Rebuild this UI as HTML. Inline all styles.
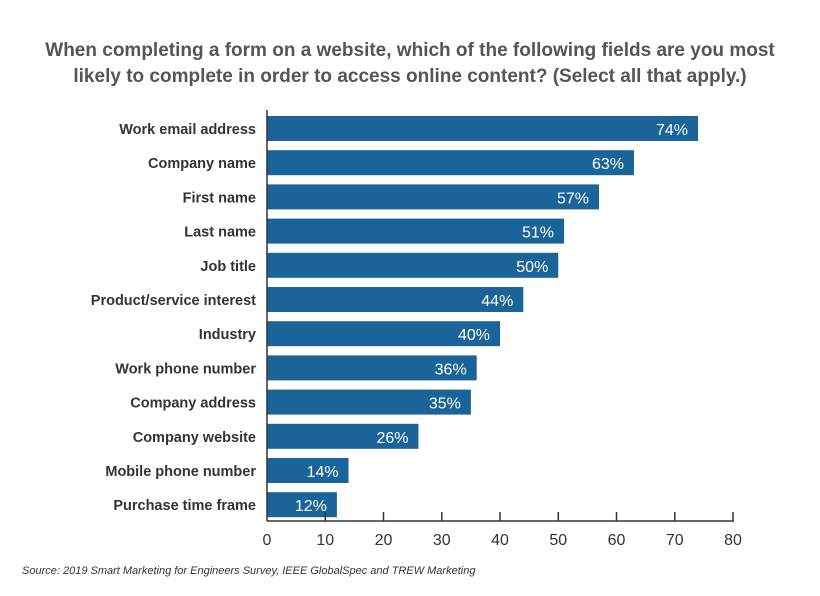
<!DOCTYPE html>
<html><head><style>
body{margin:0;background:#fff;width:820px;height:591px;overflow:hidden;font-family:"Liberation Sans",sans-serif}
</style></head><body>
<svg width="820" height="591" xmlns="http://www.w3.org/2000/svg" font-family="Liberation Sans, sans-serif">
<text x="410" y="56" text-anchor="middle" font-size="19" font-weight="bold" fill="#555">When completing a form on a website, which of the following fields are you most</text>
<text x="410" y="82" text-anchor="middle" font-size="19" font-weight="bold" fill="#555">likely to complete in order to access online content? (Select all that apply.)</text>
<g fill="#1b6499">
<rect x="267" y="116" width="431.05" height="25"/>
<rect x="267" y="150.2" width="366.98" height="25"/>
<rect x="267" y="184.4" width="332.03" height="25"/>
<rect x="267" y="218.6" width="297.08" height="25"/>
<rect x="267" y="252.8" width="291.25" height="25"/>
<rect x="267" y="287" width="256.3" height="25"/>
<rect x="267" y="321.2" width="233" height="25"/>
<rect x="267" y="355.4" width="209.7" height="25"/>
<rect x="267" y="389.6" width="203.88" height="25"/>
<rect x="267" y="423.8" width="151.45" height="25"/>
<rect x="267" y="458" width="81.55" height="25"/>
<rect x="267" y="492.2" width="69.9" height="25"/>
</g>
<g font-size="14.5" font-weight="bold" fill="#333" text-anchor="end">
<text x="256" y="134">Work email address</text>
<text x="256" y="168.2">Company name</text>
<text x="256" y="202.4">First name</text>
<text x="256" y="236.6">Last name</text>
<text x="256" y="270.8">Job title</text>
<text x="256" y="305">Product/service interest</text>
<text x="256" y="339.2">Industry</text>
<text x="256" y="373.4">Work phone number</text>
<text x="256" y="407.6">Company address</text>
<text x="256" y="441.8">Company website</text>
<text x="256" y="476">Mobile phone number</text>
<text x="256" y="510.2">Purchase time frame</text>
</g>
<g font-size="16" fill="#fff" text-anchor="end">
<text x="688" y="135">74%</text>
<text x="624" y="169.2">63%</text>
<text x="589" y="203.4">57%</text>
<text x="554" y="237.6">51%</text>
<text x="548.3" y="271.8">50%</text>
<text x="513.3" y="306">44%</text>
<text x="490" y="340.2">40%</text>
<text x="466.7" y="374.4">36%</text>
<text x="460.9" y="408.6">35%</text>
<text x="408.5" y="442.8">26%</text>
<text x="338.6" y="477">14%</text>
<text x="326.9" y="511.2">12%</text>
</g>
<line x1="267" y1="110" x2="267" y2="521" stroke="#333" stroke-width="1.5"/>
<line x1="267" y1="521" x2="734" y2="521" stroke="#333" stroke-width="1.5"/>
<g stroke="#333" stroke-width="1.5">
<line x1="325.3" y1="512" x2="325.3" y2="521"/><line x1="383.5" y1="512" x2="383.5" y2="521"/><line x1="441.8" y1="512" x2="441.8" y2="521"/><line x1="500" y1="512" x2="500" y2="521"/><line x1="558.3" y1="512" x2="558.3" y2="521"/><line x1="616.5" y1="512" x2="616.5" y2="521"/><line x1="674.8" y1="512" x2="674.8" y2="521"/><line x1="733" y1="512" x2="733" y2="521"/>
</g>
<g font-size="16" fill="#333" text-anchor="middle">
<text x="267" y="545">0</text><text x="325.3" y="545">10</text><text x="383.5" y="545">20</text><text x="441.8" y="545">30</text><text x="500" y="545">40</text><text x="558.3" y="545">50</text><text x="616.5" y="545">60</text><text x="674.8" y="545">70</text><text x="733" y="545">80</text>
</g>
<text x="22" y="574" font-size="11" font-style="italic" fill="#333">Source: 2019 Smart Marketing for Engineers Survey, IEEE GlobalSpec and TREW Marketing</text>
</svg>
</body></html>
